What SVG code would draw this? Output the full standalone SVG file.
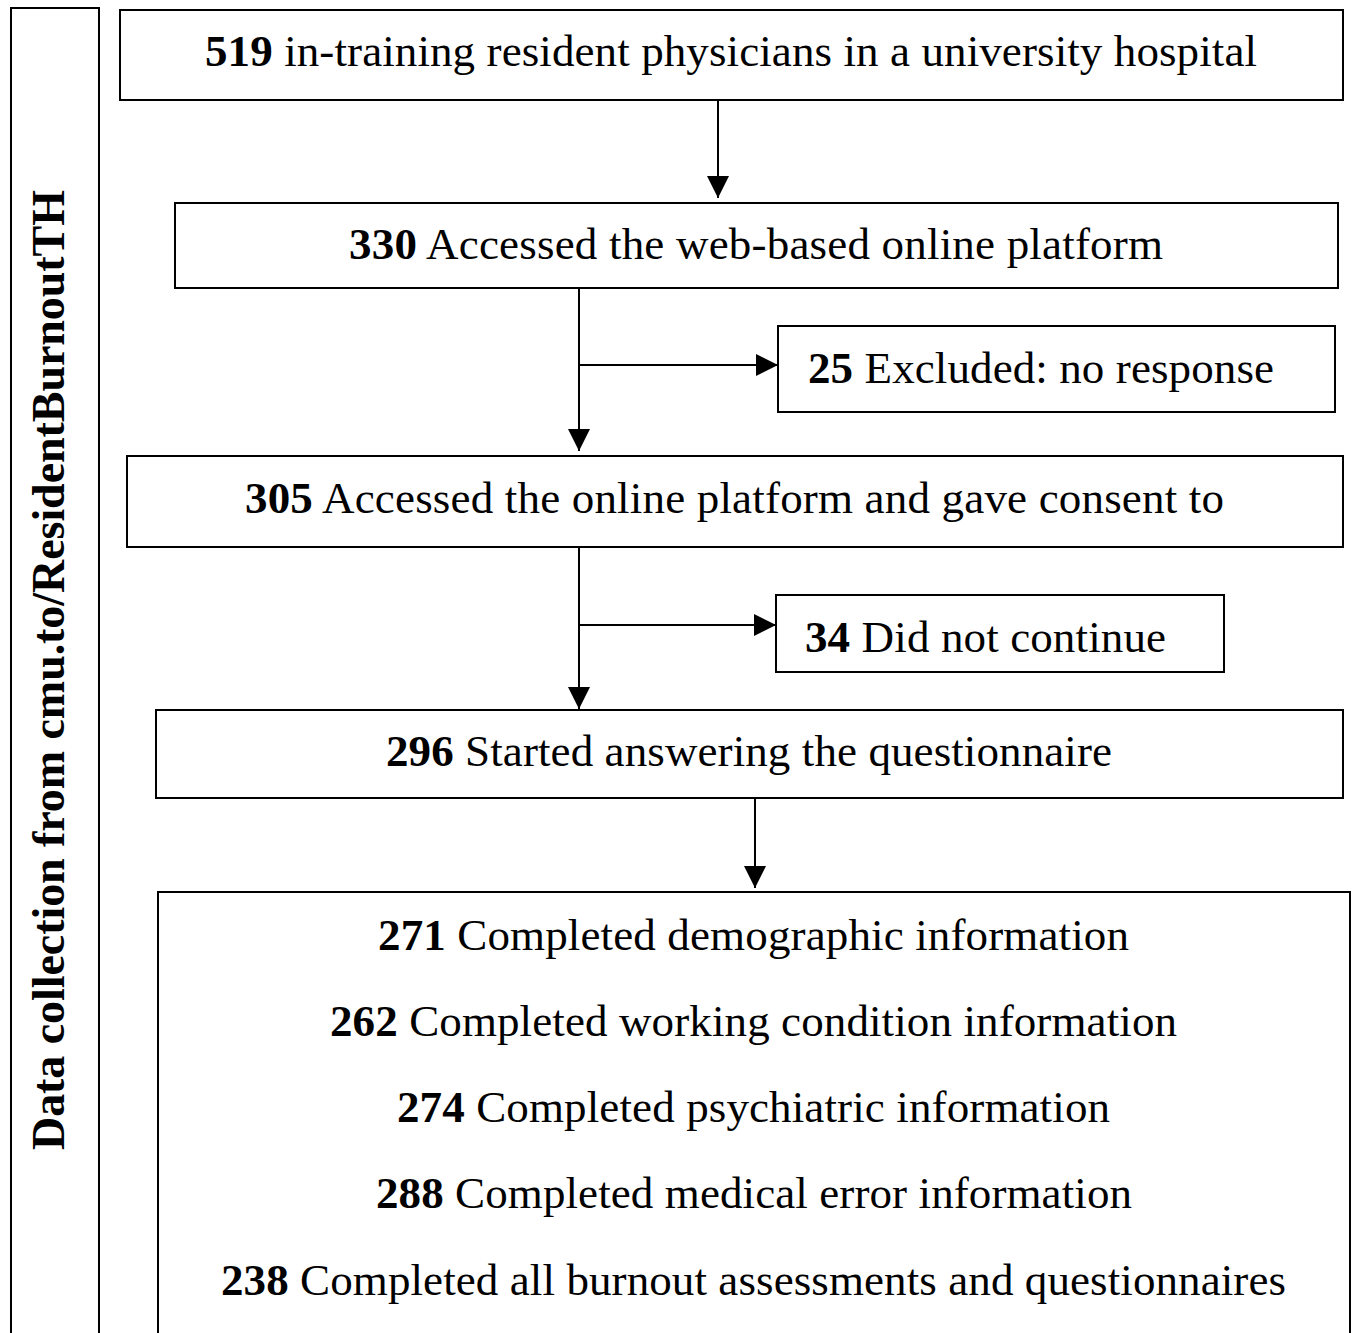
<svg xmlns="http://www.w3.org/2000/svg" width="1354" height="1333" viewBox="0 0 1354 1333">
<defs>
<marker id="ah" viewBox="0 0 22 22" refX="22" refY="11" markerWidth="22" markerHeight="22" markerUnits="userSpaceOnUse" orient="auto">
<path d="M0,0 L22,11 L0,22 Z" fill="#000"/>
</marker>
<style>
.box{fill:#fff;stroke:#000;stroke-width:2}
.t{font-family:"Liberation Serif","Times New Roman",serif;font-size:45px;fill:#000}
.b{font-weight:bold}
.c{fill:none;stroke:#000;stroke-width:2}
</style>
</defs>
<rect width="1354" height="1333" fill="#fff"/>
<g id="side">
<rect class="box" x="11" y="8" width="88" height="1340"/>
<text class="t b" style="font-size:46px" transform="translate(64,1150) rotate(-90)" textLength="960" lengthAdjust="spacing">Data collection from cmu.to/ResidentBurnoutTH</text>
</g>
<g id="n519">
<rect class="box" x="120" y="10" width="1223" height="90"/>
<text class="t" x="205" y="66" textLength="1052" lengthAdjust="spacing"><tspan class="b">519</tspan> in-training resident physicians in a university hospital</text>
</g>
<g id="n330">
<rect class="box" x="175" y="203" width="1163" height="85"/>
<text class="t" x="349" y="259" textLength="814" lengthAdjust="spacing"><tspan class="b">330</tspan> Accessed the web-based online platform</text>
</g>
<g id="n25">
<rect class="box" x="778" y="326" width="557" height="86"/>
<text class="t" x="808" y="383" textLength="466" lengthAdjust="spacing"><tspan class="b">25</tspan> Excluded: no response</text>
</g>
<g id="n305">
<rect class="box" x="127" y="456" width="1216" height="91"/>
<text class="t" x="245" y="513" textLength="979" lengthAdjust="spacing"><tspan class="b">305</tspan> Accessed the online platform and gave consent to</text>
</g>
<g id="n34">
<rect class="box" x="776" y="595" width="448" height="77"/>
<text class="t" x="805" y="652" textLength="361" lengthAdjust="spacing"><tspan class="b">34</tspan> Did not continue</text>
</g>
<g id="n296">
<rect class="box" x="156" y="710" width="1187" height="88"/>
<text class="t" x="386" y="766" textLength="726" lengthAdjust="spacing"><tspan class="b">296</tspan> Started answering the questionnaire</text>
</g>
<g id="nfinal">
<rect class="box" x="158" y="892" width="1192" height="460"/>
<text class="t" x="378" y="950" textLength="751" lengthAdjust="spacing"><tspan class="b">271</tspan> Completed demographic information</text>
<text class="t" x="330" y="1036" textLength="847" lengthAdjust="spacing"><tspan class="b">262</tspan> Completed working condition information</text>
<text class="t" x="397" y="1122" textLength="713" lengthAdjust="spacing"><tspan class="b">274</tspan> Completed psychiatric information</text>
<text class="t" x="376" y="1208" textLength="756" lengthAdjust="spacing"><tspan class="b">288</tspan> Completed medical error information</text>
<text class="t" x="221" y="1295" textLength="1065" lengthAdjust="spacing"><tspan class="b">238</tspan> Completed all burnout assessments and questionnaires</text>
</g>
<g id="connectors">
<line class="c" x1="718" y1="100" x2="718" y2="198" marker-end="url(#ah)"/>
<line class="c" x1="579" y1="288" x2="579" y2="451" marker-end="url(#ah)"/>
<line class="c" x1="579" y1="365" x2="778" y2="365" marker-end="url(#ah)"/>
<line class="c" x1="579" y1="547" x2="579" y2="709" marker-end="url(#ah)"/>
<line class="c" x1="579" y1="625" x2="776" y2="625" marker-end="url(#ah)"/>
<line class="c" x1="755" y1="798" x2="755" y2="888" marker-end="url(#ah)"/>
</g>
</svg>
